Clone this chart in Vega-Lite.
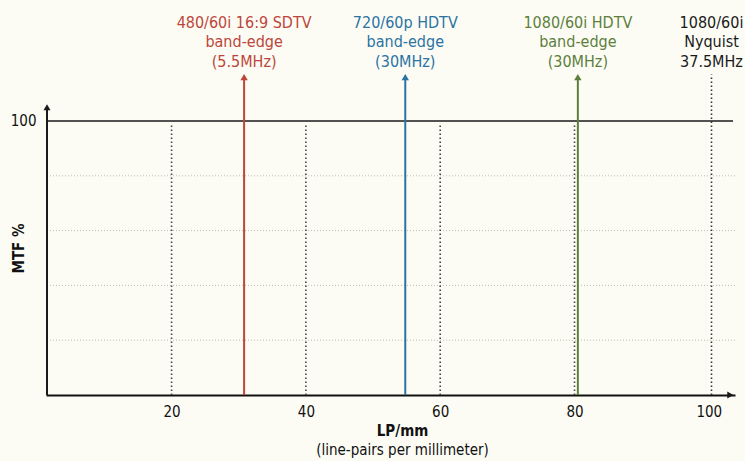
{
  "$schema": "https://vega.github.io/schema/vega-lite/v6.json",
  "width": 689,
  "height": 395,
  "autosize": "none",
  "padding": {"left": 46, "right": 10, "top": 0, "bottom": 66},
  "background": "#fcfcf5",
  "config": {
    "view": {"stroke": null},
    "font": "Liberation Sans Narrow, DejaVu Sans Condensed, sans-serif"
  },
  "title": {
    "text": "LP/mm",
    "subtitle": "(line-pairs per millimeter)",
    "orient": "bottom",
    "anchor": "middle",
    "fontSize": 15,
    "fontWeight": "bold",
    "color": "#111",
    "subtitleFontSize": 15,
    "subtitleColor": "#111",
    "subtitlePadding": 4,
    "offset": 5,
    "dx": 12,
    "font": "Liberation Sans Narrow, DejaVu Sans Condensed, sans-serif",
    "subtitleFont": "Liberation Sans Narrow, DejaVu Sans Condensed, sans-serif"
  },
  "datasets": {
    "markers": [
      {"name": "480/60i 16:9 SDTV", "lp": 30.8, "label": "480/60i 16:9 SDTV\nband-edge\n(5.5MHz)"},
      {"name": "720/60p HDTV", "lp": 54.8, "label": "720/60p HDTV\nband-edge\n(30MHz)"},
      {"name": "1080/60i HDTV", "lp": 80.5, "label": "1080/60i HDTV\nband-edge\n(30MHz)"},
      {"name": "1080/60i Nyquist", "lp": 100.4, "label": "1080/60i\nNyquist\n37.5MHz"}
    ]
  },
  "layer": [
    {
      "data": {"values": [{"g": 20}, {"g": 40}, {"g": 60}, {"g": 80}]},
      "mark": {"type": "rule", "color": "#bdbdb3", "strokeDash": [1, 2], "strokeWidth": 1},
      "encoding": {
        "y": {
          "field": "g",
          "type": "quantitative",
          "scale": {"domain": [0, 144.16], "nice": false, "zero": false},
          "axis": {
            "values": [100],
            "grid": false,
            "ticks": false,
            "domain": false,
            "labelFontSize": 15,
            "labelColor": "#111",
            "labelPadding": 10,
            "title": "MTF %",
            "titleFontSize": 15,
            "titleFontWeight": "bold",
            "titleColor": "#111",
            "titleAngle": -90,
            "titleX": -28,
            "titleY": 248,
            "titleAlign": "center",
            "titleBaseline": "middle"
          }
        }
      }
    },
    {
      "data": {"values": [{"v": 20}, {"v": 40}, {"v": 60}, {"v": 80}]},
      "mark": {"type": "rule", "color": "#444", "strokeDash": [1.5, 2.5], "strokeWidth": 1.6},
      "encoding": {
        "x": {
          "field": "v",
          "type": "quantitative",
          "scale": {"domain": [1.3, 103.9], "nice": false, "zero": false},
          "axis": {
            "values": [20, 40, 60, 80, 100],
            "grid": false,
            "ticks": false,
            "domain": true,
            "domainColor": "#111",
            "domainWidth": 2,
            "labelFontSize": 15,
            "labelColor": "#111",
            "labelPadding": 9,
            "title": null
          }
        },
        "y": {"datum": 0},
        "y2": {"datum": 99.3}
      }
    },
    {
      "data": {"values": [{"k": 1}]},
      "mark": {"type": "rule", "color": "#1a1a1a", "strokeWidth": 1.6},
      "encoding": {
        "x": {"datum": 1.3},
        "x2": {"datum": 103.6},
        "y": {"datum": 100}
      }
    },
    {
      "data": {"values": [{"k": 1}]},
      "mark": {"type": "rule", "color": "#1a1a1a", "strokeWidth": 2},
      "encoding": {
        "x": {"datum": 1.45},
        "y": {"datum": 0},
        "y2": {"datum": 104}
      }
    },
    {
      "data": {"values": [{"k": 1}]},
      "mark": {"type": "point", "shape": "triangle-up", "filled": true, "size": 50, "color": "#1a1a1a", "opacity": 1},
      "encoding": {
        "x": {"datum": 1.45},
        "y": {"datum": 105}
      }
    },
    {
      "data": {"values": [{"k": 1}]},
      "mark": {"type": "point", "shape": "triangle-right", "filled": true, "size": 50, "color": "#1a1a1a", "opacity": 1},
      "encoding": {
        "x": {"datum": 103.2},
        "y": {"datum": 0}
      }
    },
    {
      "data": {"name": "markers"},
      "transform": [{"filter": "datum.name == '1080/60i Nyquist'"}],
      "mark": {"type": "rule", "color": "#333", "strokeDash": [1.5, 2.5], "strokeWidth": 1.6},
      "encoding": {
        "x": {"field": "lp", "type": "quantitative"},
        "y": {"datum": 0},
        "y2": {"datum": 117}
      }
    },
    {
      "data": {"name": "markers"},
      "transform": [{"filter": "datum.name != '1080/60i Nyquist'"}],
      "mark": {"type": "rule", "strokeWidth": 2},
      "encoding": {
        "x": {"field": "lp", "type": "quantitative"},
        "y": {"datum": 0},
        "y2": {"datum": 115},
        "color": {
          "field": "name",
          "type": "nominal",
          "scale": {
            "domain": ["480/60i 16:9 SDTV", "720/60p HDTV", "1080/60i HDTV", "1080/60i Nyquist"],
            "range": ["#bd463b", "#2b73a2", "#5d7f3c", "#1a1a1a"]
          },
          "legend": null
        }
      }
    },
    {
      "data": {"name": "markers"},
      "transform": [{"filter": "datum.name != '1080/60i Nyquist'"}],
      "mark": {"type": "point", "shape": "triangle-up", "filled": true, "size": 55, "opacity": 1},
      "encoding": {
        "x": {"field": "lp", "type": "quantitative"},
        "y": {"datum": 116},
        "color": {"field": "name", "type": "nominal", "legend": null}
      }
    },
    {
      "data": {"name": "markers"},
      "mark": {"type": "text", "lineBreak": "\n", "baseline": "top", "align": "center", "fontSize": 16, "lineHeight": 19.5},
      "encoding": {
        "x": {"field": "lp", "type": "quantitative"},
        "y": {"datum": 138.8},
        "text": {"field": "label"},
        "color": {"field": "name", "type": "nominal", "legend": null}
      }
    }
  ]
}
